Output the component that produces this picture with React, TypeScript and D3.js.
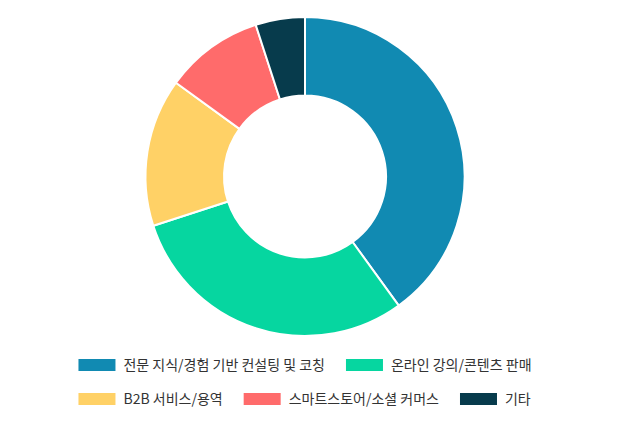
import { useEffect, useRef } from "react";
import * as d3 from "d3";

const categories = [
  "전문 지식/경험 기반 컨설팅 및 코칭",
  "온라인 강의/콘텐츠 판매",
  "B2B 서비스/용역",
  "스마트스토어/소셜 커머스",
  "기타",
];
const values = [40, 30, 15, 10, 5];
const colors = ["#118AB2", "#06D6A0", "#FFD166", "#FF6B6B", "#073B4C"];

const W = 640;
const H = 432;
const FONT = "'Noto Sans CJK KR', 'Noto Sans', sans-serif";

export default function App(): JSX.Element {
  const ref = useRef<SVGSVGElement | null>(null);

  useEffect(() => {
    if (!ref.current) return;
    const svg = d3.select(ref.current);
    svg.selectAll("*").remove();

    const cx = 305;
    const cy = 176.5;
    const outer = 159.5;
    const inner = 81;

    const pie = d3.pie<number>().sort(null).value((d) => d);
    const arc = d3.arc<d3.PieArcDatum<number>>().innerRadius(inner).outerRadius(outer);

    svg
      .append("g")
      .attr("transform", `translate(${cx},${cy})`)
      .selectAll("path")
      .data(pie(values))
      .join("path")
      .attr("d", arc)
      .attr("fill", (_, i) => colors[i])
      .attr("stroke", "#fff")
      .attr("stroke-width", 2)
      .attr("stroke-linejoin", "round");

    // legend: measure, then wrap into centered rows
    const boxW = 37;
    const boxH = 12;
    const textGap = 8;
    const itemGap = 21;
    const maxW = 560;
    const rowY = [365, 399];

    const lg = svg.append("g");
    const items = categories.map((c, i) => {
      const g = lg.append("g");
      g.append("rect").attr("width", boxW).attr("height", boxH).attr("fill", colors[i]);
      const t = g
        .append("text")
        .attr("x", boxW + textGap)
        .attr("y", boxH / 2)
        .attr("dy", "0.36em")
        .attr("font-family", FONT)
        .attr("font-size", 14)
        .attr("fill", "#333")
        .text(c);
      const tw = (t.node() as SVGTextElement).getComputedTextLength();
      return { g, w: boxW + textGap + tw };
    });

    const rows: { g: typeof items[number]["g"]; w: number }[][] = [[]];
    let cur = 0;
    for (const it of items) {
      const row = rows[rows.length - 1];
      const add = (row.length ? itemGap : 0) + it.w;
      if (row.length && cur + add > maxW) {
        rows.push([it]);
        cur = it.w;
      } else {
        row.push(it);
        cur += add;
      }
    }
    const rowWidth = (r: typeof rows[number]) => r.reduce((s, it, i) => s + it.w + (i ? itemGap : 0), 0);
    const widest = Math.max(...rows.map(rowWidth));
    const x0 = cx - widest / 2;
    rows.forEach((r, ri) => {
      let x = x0;
      r.forEach((it) => {
        it.g.attr("transform", `translate(${x},${(rowY[ri] ?? 365 + ri * 34) - boxH / 2})`);
        x += it.w + itemGap;
      });
    });
  }, []);

  return (
    <svg
      ref={ref}
      width={W}
      height={H}
      style={{ position: "fixed", left: 0, top: 0, background: "#fff" }}
    />
  );
}
